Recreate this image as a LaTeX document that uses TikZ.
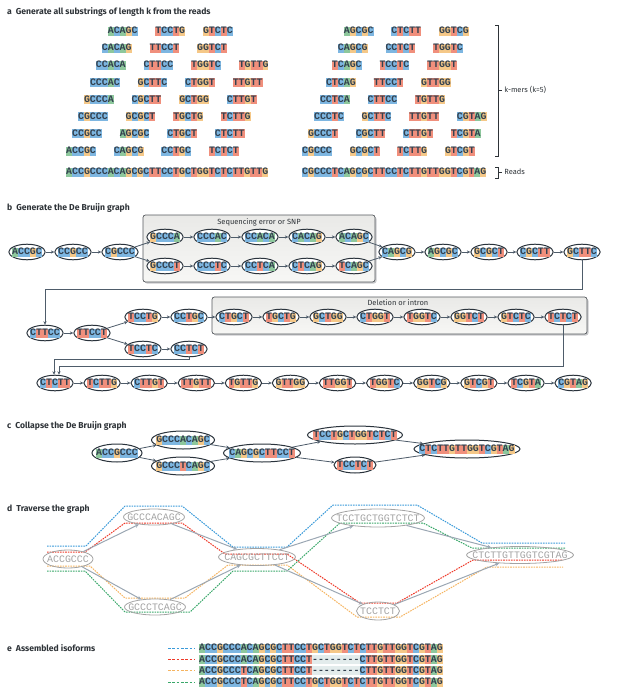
\documentclass[tikz,border=0pt]{standalone}
\usepackage{fontspec}
\setsansfont{Fira Sans}
\newfontfamily\seqfont{Liberation Mono}
\usetikzlibrary{arrows.meta,shapes.geometric}

\definecolor{ntA}{HTML}{8DC79C}
\definecolor{ntC}{HTML}{7DB6E1}
\definecolor{ntG}{HTML}{F5C888}
\definecolor{ntT}{HTML}{F08F7C}
\definecolor{ntGap}{HTML}{E3ECEC}
\definecolor{seqink}{HTML}{33414F}
\definecolor{edgeink}{HTML}{4E5C6A}
\definecolor{ringink}{HTML}{2A333C}
\definecolor{dgray}{HTML}{A3A3A3}
\definecolor{darrow}{HTML}{9BA7B3}
\definecolor{pblue}{HTML}{3A9AD9}
\definecolor{pred}{HTML}{EE3A2A}
\definecolor{porange}{HTML}{F5B461}
\definecolor{pgreen}{HTML}{3AA86A}
\definecolor{boxtop}{HTML}{E9E9E7}
\definecolor{boxbot}{HTML}{F7F7F5}
\definecolor{boxshadow}{HTML}{C9CACC}
\definecolor{boxline}{HTML}{55595E}
\definecolor{labelink}{HTML}{2E3338}

\newcommand\ntbox[2]{{\setlength\fboxsep{0pt}\colorbox{#1}{\rule[-2pt]{0pt}{9pt}#2}}}
\def\seqch#1{\ifx#1-\ntbox{ntGap}{-}\else\ntbox{nt#1}{#1}\fi}
\def\seqrun#1{\ifx#1\relax\else\seqch#1\expandafter\seqrun\fi}
\newcommand\dna[1]{{\seqfont\bfseries\fontsize{9.9}{10}\selectfont\color{seqink}\seqrun#1\relax}}
\newcommand\dnax[1]{\expandafter\dna\expandafter{#1}}
\newcommand\gseq[1]{{\seqfont\fontsize{9.9}{10}\selectfont\color{dgray}#1}}

\tikzset{
  kmer/.style={inner sep=0pt, anchor=west},
  bn/.style={ellipse, draw=ringink, line width=1pt, fill=white, inner xsep=-2pt, inner ysep=1pt},
  cn/.style={ellipse, draw=ringink, line width=1pt, fill=white, inner xsep=-40pt, inner ysep=0pt, minimum height=18pt},
  dn/.style={ellipse, draw=dgray, line width=0.8pt, inner xsep=-40pt, inner ysep=0pt, minimum height=17pt},
  arr/.style={edgeink, line width=0.8pt, -{Stealth[length=3.5pt,width=3.2pt]}},
  darr/.style={darrow, line width=1pt, -{Stealth[length=4pt,width=3.6pt]}},
  pline/.style={line width=1pt, dash pattern=on 1.6pt off 1pt},
  swatch/.style={line width=0.9pt, dash pattern=on 2.8pt off 1.5pt},
  title/.style={anchor=west, inner sep=0pt, labelink, font=\sffamily\bfseries\fontsize{8.6}{10}\selectfont},
  lbl/.style={inner sep=0pt, labelink, font=\sffamily\fontsize{7.5}{9}\selectfont},
  brk/.style={labelink, line width=0.9pt},
  errbox/.style={draw=boxline, line width=0.7pt, top color=boxtop, bottom color=boxbot, rounded corners=2.5pt},
  errshadow/.style={fill=boxshadow, rounded corners=2.5pt},
}

\begin{document}
\begin{tikzpicture}[x=1pt,y=-1pt]
\useasboundingbox (0,0) rectangle (616,690);

% ---------------- a ----------------
\node[title] (ta) at (7,12) {a\hspace{4pt}Generate all substrings of length k from the reads};
\foreach \s/\p in {ACCGC/0,CCGCC/1,CGCCC/2,GCCCA/3,CCCAC/4,CCACA/5,CACAG/6,ACAGC/7,
  CAGCG/8,AGCGC/9,GCGCT/10,CGCTT/11,GCTTC/12,CTTCC/13,TTCCT/14,TCCTG/15,
  CCTGC/16,CTGCT/17,TGCTG/18,GCTGG/19,CTGGT/20,TGGTC/21,GGTCT/22,GTCTC/23,
  TCTCT/24,CTCTT/25,TCTTG/26,CTTGT/27,TTGTT/28,TGTTG/29}{
  \pgfmathsetmacro\xx{66+5.95*\p}
  \pgfmathsetmacro\yy{151-17.1*mod(\p,8)}
  \node[kmer] (kl\p) at (\xx,\yy) {\dnax{\s}};
}
\foreach \s/\p in {CGCCC/0,GCCCT/1,CCCTC/2,CCTCA/3,CTCAG/4,TCAGC/5,CAGCG/6,AGCGC/7,
  GCGCT/8,CGCTT/9,GCTTC/10,CTTCC/11,TTCCT/12,TCCTC/13,CCTCT/14,CTCTT/15,
  TCTTG/16,CTTGT/17,TTGTT/18,TGTTG/19,GTTGG/20,TTGGT/21,TGGTC/22,GGTCG/23,
  GTCGT/24,TCGTA/25,CGTAG/26}{
  \pgfmathsetmacro\xx{302+5.95*\p}
  \pgfmathsetmacro\yy{151-17.1*mod(\p,8)}
  \node[kmer] (kr\p) at (\xx,\yy) {\dnax{\s}};
}
\node[kmer] (readL) at (66,172) {\dna{ACCGCCCACAGCGCTTCCTGCTGGTCTCTTGTTG}};
\node[kmer] (readR) at (302,172) {\dna{CGCCCTCAGCGCTTCCTCTTGTTGGTCGTAG}};
\draw[brk] (495,25) -- (498,25) -- (498,156) -- (495,156);
\coordinate (kbr) at (498,90);
\draw[brk] (kbr) -- ++(4,0) node[lbl, anchor=west, xshift=2pt] (klbl) {k-mers (k=5)};
\draw[brk] (495,167) -- (498,167) -- (498,178) -- (495,178);
\coordinate (rbr) at (498,172);
\draw[brk] (rbr) -- ++(4,0) node[lbl, anchor=west, xshift=2pt] (rlbl) {Reads};

% ---------------- b ----------------
\node[title] (tb) at (7,208) {b\hspace{4pt}Generate the De Bruijn graph};
\fill[errshadow] (144.5,216.5) rectangle (376.5,283.5);
\draw[errbox] (143,215) rectangle (375,282);
\node[lbl] (lsnp) at (259,222) {Sequencing error or SNP};
\fill[errshadow] (213.5,298.5) rectangle (588.5,335.5);
\draw[errbox] (212,297) rectangle (587,334);
\node[lbl] (ldel) at (398,303) {Deletion or intron};

\node[bn] (b1) at (27,252) {\dna{ACCGC}};
\node[bn] (b2) at (73,252) {\dna{CCGCC}};
\node[bn] (b3) at (120,252) {\dna{CGCCC}};
\node[bn] (u1) at (165,237) {\dna{GCCCA}};
\node[bn] (u2) at (212,237) {\dna{CCCAC}};
\node[bn] (u3) at (260,237) {\dna{CCACA}};
\node[bn] (u4) at (307,237) {\dna{CACAG}};
\node[bn] (u5) at (354,237) {\dna{ACAGC}};
\node[bn] (l1) at (165,266) {\dna{GCCCT}};
\node[bn] (l2) at (212,266) {\dna{CCCTC}};
\node[bn] (l3) at (260,266) {\dna{CCTCA}};
\node[bn] (l4) at (307,266) {\dna{CTCAG}};
\node[bn] (l5) at (354,266) {\dna{TCAGC}};
\node[bn] (b4) at (397,252) {\dna{CAGCG}};
\node[bn] (b5) at (443,252) {\dna{AGCGC}};
\node[bn] (b6) at (489,252) {\dna{GCGCT}};
\node[bn] (b7) at (535,252) {\dna{CGCTT}};
\node[bn] (b8) at (582,252) {\dna{GCTTC}};
\draw[arr] (b1) -- (b2); \draw[arr] (b2) -- (b3);
\draw[arr] (b3) -- (u1); \draw[arr] (b3) -- (l1);
\draw[arr] (u1) -- (u2); \draw[arr] (u2) -- (u3); \draw[arr] (u3) -- (u4); \draw[arr] (u4) -- (u5);
\draw[arr] (l1) -- (l2); \draw[arr] (l2) -- (l3); \draw[arr] (l3) -- (l4); \draw[arr] (l4) -- (l5);
\draw[arr] (u5) -- (b4); \draw[arr] (l5) -- (b4);
\draw[arr] (b4) -- (b5); \draw[arr] (b5) -- (b6); \draw[arr] (b6) -- (b7); \draw[arr] (b7) -- (b8);

\node[bn] (m1) at (45,333) {\dna{CTTCC}};
\node[bn] (m2) at (92,333) {\dna{TTCCT}};
\node[bn] (m3) at (143,317) {\dna{TCCTG}};
\node[bn] (m4) at (189,317) {\dna{CCTGC}};
\node[bn] (m5) at (143,349) {\dna{TCCTC}};
\node[bn] (m6) at (189,349) {\dna{CCTCT}};
\foreach \s [count=\i from 0] in {CTGCT,TGCTG,GCTGG,CTGGT,TGGTC,GGTCT,GTCTC,TCTCT}{
  \node[bn] (d\i) at ({234+47*\i},317) {\dnax{\s}};
}
\coordinate (bendA) at (45,289);
\draw[arr] (b8.south) |- (bendA) -- (m1.north);
\draw[arr] (m1) -- (m2); \draw[arr] (m2) -- (m3); \draw[arr] (m2) -- (m5);
\draw[arr] (m3) -- (m4); \draw[arr] (m5) -- (m6); \draw[arr] (m4) -- (d0);
\foreach \i [evaluate=\i as \j using int(\i+1)] in {0,...,6}{ \draw[arr] (d\i) -- (d\j); }

\foreach \s [count=\i from 0] in {CTCTT,TCTTG,CTTGT,TTGTT,TGTTG,GTTGG,TTGGT,TGGTC,GGTCG,GTCGT,TCGTA,CGTAG}{
  \node[bn] (r\i) at ({55+47.1*\i},383) {\dnax{\s}};
}
\foreach \i [evaluate=\i as \j using int(\i+1)] in {0,...,10}{ \draw[arr] (r\i) -- (r\j); }
\coordinate (bendB) at (54,359);
\coordinate (bendC) at (59,366);
\draw[arr] (m6.south) |- (bendB) -- (bendB |- r0.north);
\draw[arr] (d7.south) |- (bendC) -- (bendC |- r0.north);

% ---------------- c ----------------
\node[title] (tc) at (7,426) {c\hspace{4pt}Collapse the De Bruijn graph};
\node[cn, minimum width=50pt] (c1) at (117,453) {\dna{ACCGCCC}};
\node[cn, minimum width=63pt] (c2) at (183,440) {\dna{GCCCACAGC}};
\node[cn, minimum width=63pt] (c3) at (183,466) {\dna{GCCCTCAGC}};
\node[cn, minimum width=77pt] (c4) at (262,453) {\dna{CAGCGCTTCCT}};
\node[cn, minimum width=95pt] (c5) at (355,435) {\dna{TCCTGCTGGTCTCT}};
\node[cn, minimum width=42pt, minimum height=16pt] (c6) at (355,465) {\dna{TCCTCT}};
\node[cn, minimum width=106pt] (c7) at (467,449) {\dna{CTCTTGTTGGTCGTAG}};
\draw[arr] (c1) -- (c2); \draw[arr] (c1) -- (c3);
\draw[arr] (c2) -- (c4); \draw[arr] (c3) -- (c4);
\draw[arr] (c4) -- (c5); \draw[arr] (c4) -- (c6);
\draw[arr] (c5) -- (c7); \draw[arr] (c6) -- (c7);

% ---------------- d ----------------
\node[title] (td) at (7,509) {d\hspace{4pt}Traverse the graph};
\draw[pline, pblue] (47,546) -- (86,546) -- (125,506) -- (182,506) -- (233,547) -- (287,547) -- (333,505) -- (417,505) -- (482,543) -- (565,543);
\draw[pline, pred] (47,552) -- (85,552) -- (125,523) -- (182,523) -- (225,554) -- (287,554) -- (360,603) -- (397,603) -- (473,560) -- (563,560);
\draw[pline, porange] (47,566) -- (90,566) -- (125,598) -- (185,598) -- (228,565) -- (287,565) -- (357,617) -- (400,617) -- (487,567) -- (563,567);
\draw[pline, pgreen] (47,571) -- (85,571) -- (125,612) -- (190,612) -- (233,571) -- (287,571) -- (340,523) -- (423,523) -- (472,548) -- (565,548);
\node[dn, minimum width=50pt, minimum height=18pt] (g1) at (68,559) {\gseq{ACCGCCC}};
\node[dn, minimum width=61pt, minimum height=16pt] (g2) at (154,517) {\gseq{GCCCACAGC}};
\node[dn, minimum width=61pt, minimum height=16pt] (g3) at (155,607) {\gseq{GCCCTCAGC}};
\node[dn, minimum width=77pt] (g4) at (257,557) {\gseq{CAGCGCTTCCT}};
\node[dn, minimum width=93pt, minimum height=18pt] (g5) at (378,518) {\gseq{TCCTGCTGGTCTCT}};
\node[dn, minimum width=43pt, minimum height=18pt] (g6) at (378,611) {\gseq{TCCTCT}};
\node[dn, minimum width=107pt] (g7) at (520,555) {\gseq{CTCTTGTTGGTCGTAG}};
\draw[darr] (g1) -- (g2); \draw[darr] (g1) -- (g3);
\draw[darr] (g2) -- (g4); \draw[darr] (g3) -- (g4);
\draw[darr] (g4) -- (g5); \draw[darr] (g4) -- (g6);
\draw[darr] (g5) -- (g7); \draw[darr] (g6) -- (g7);

% ---------------- e ----------------
\node[title] (te) at (7,648) {e\hspace{4pt}Assembled isoforms};
\draw[swatch, pblue] (168,648) -- (194,648);
\draw[swatch, pred] (168,659.5) -- (194,659.5);
\draw[swatch, porange] (168,670.5) -- (194,670.5);
\draw[swatch, pgreen] (168,682) -- (194,682);
\node[kmer] (e1) at (199,648) {\dna{ACCGCCCACAGCGCTTCCTGCTGGTCTCTTGTTGGTCGTAG}};
\node[kmer] (e2) at (199,659.5) {\dna{ACCGCCCACAGCGCTTCCT--------CTTGTTGGTCGTAG}};
\node[kmer] (e3) at (199,670.5) {\dna{ACCGCCCTCAGCGCTTCCT--------CTTGTTGGTCGTAG}};
\node[kmer] (e4) at (199,682) {\dna{ACCGCCCTCAGCGCTTCCTGCTGGTCTCTTGTTGGTCGTAG}};
\end{tikzpicture}
\end{document}
